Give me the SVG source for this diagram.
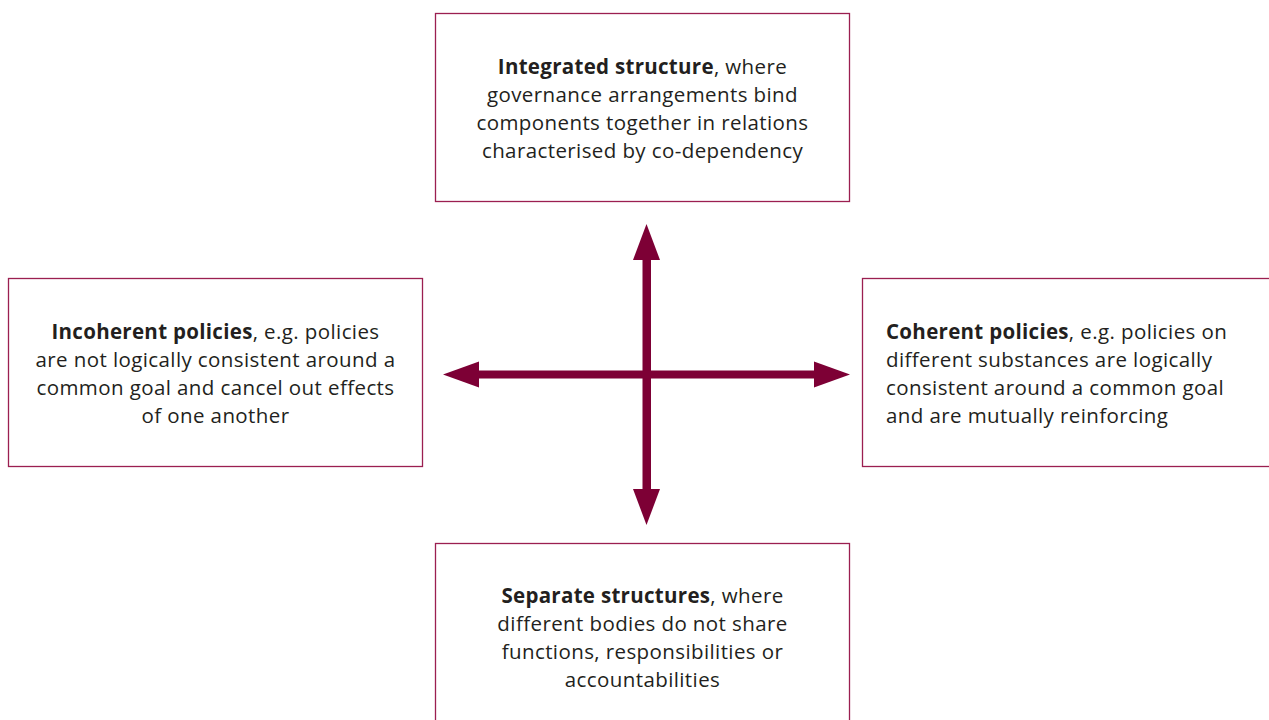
<svg xmlns="http://www.w3.org/2000/svg" width="1269" height="720" viewBox="0 0 1269 720">
<style>
.box{fill:#fff;stroke:#9b1f50;stroke-width:1.3}
.t{font-family:"Open Sans","Liberation Sans",sans-serif;font-size:20.5px;letter-spacing:0.4px;fill:#231f20}
.c{text-anchor:middle}
.b{font-weight:bold;letter-spacing:0.3px}
.arr{fill:#7d0035}
</style>
<rect width="1269" height="720" fill="#fff"/>
<g id="connectors">
<rect class="arr" x="642.5" y="255" width="8.5" height="240"/>
<rect class="arr" x="475" y="370.5" width="344" height="8"/>
<polygon class="arr" points="646.5,224 660,260 633,260"/>
<polygon class="arr" points="646.5,525 660,489 633,489"/>
<polygon class="arr" points="443,374.5 479,361.5 479,387.5"/>
<polygon class="arr" points="850,374.5 814,361.5 814,387.5"/>
</g>
<g id="top">
<rect class="box" x="435.5" y="13.5" width="414" height="188"/>
<text class="t c" x="642.5" y="74"><tspan class="b">Integrated structure</tspan>, where</text>
<text class="t c" x="642.5" y="102">governance arrangements bind</text>
<text class="t c" x="642.5" y="130">components together in relations</text>
<text class="t c" x="642.5" y="158">characterised by co-dependency</text>
</g>
<g id="left">
<rect class="box" x="8.5" y="278.5" width="414" height="188"/>
<text class="t c" x="215.5" y="339"><tspan class="b">Incoherent policies</tspan>, e.g. policies</text>
<text class="t c" x="215.5" y="367">are not logically consistent around a</text>
<text class="t c" x="215.5" y="395">common goal and cancel out effects</text>
<text class="t c" x="215.5" y="423">of one another</text>
</g>
<g id="right">
<rect class="box" x="862.5" y="278.5" width="420" height="188"/>
<text class="t" x="886" y="339"><tspan class="b">Coherent policies</tspan>, e.g. policies on</text>
<text class="t" x="886" y="367">different substances are logically</text>
<text class="t" x="886" y="395">consistent around a common goal</text>
<text class="t" x="886" y="423">and are mutually reinforcing</text>
</g>
<g id="bottom">
<rect class="box" x="435.5" y="543.5" width="414" height="200"/>
<text class="t c" x="642.5" y="603"><tspan class="b">Separate structures</tspan>, where</text>
<text class="t c" x="642.5" y="631">different bodies do not share</text>
<text class="t c" x="642.5" y="659">functions, responsibilities or</text>
<text class="t c" x="642.5" y="687">accountabilities</text>
</g>
</svg>
